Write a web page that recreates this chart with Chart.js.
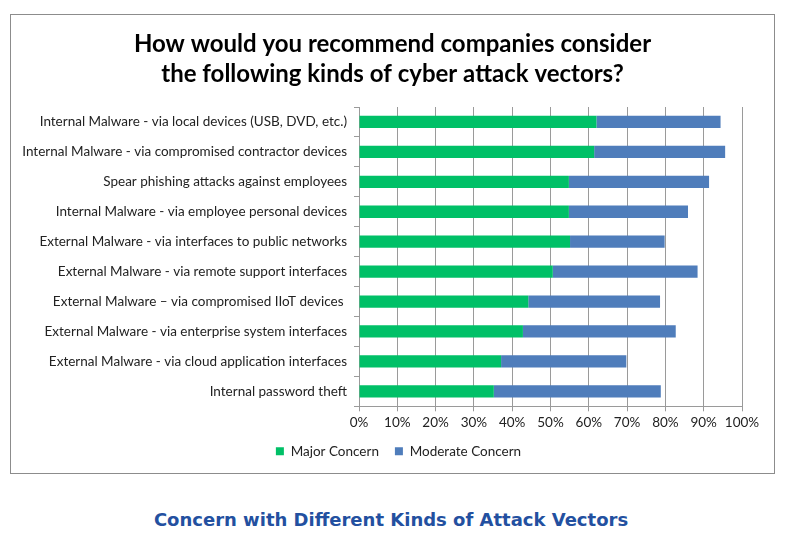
<!DOCTYPE html>
<html>
<head>
<meta charset="utf-8">
<script src="https://cdn.jsdelivr.net/npm/chart.js@4"></script>
<style>
  body { margin: 0; background: #fff; width: 790px; height: 545px; position: relative; }
  #box { position: absolute; left: 10px; top: 14px; width: 763px; height: 458px; border: 1px solid #8c8c8c; }
  #caption { position: absolute; left: 0; width: 782px; top: 509px; text-align: center;
    font: bold 18px "DejaVu Sans", Verdana, sans-serif; color: #2350a0; }
</style>
</head>
<body>
<div id="box"><canvas id="myChart" width="763" height="458"></canvas></div>
<div id="caption">Concern with Different Kinds of Attack Vectors</div>
<script>
const categories = [
    'Internal Malware - via local devices (USB, DVD, etc.)',
    'Internal Malware - via compromised contractor devices',
    'Spear phishing attacks against employees',
    'Internal Malware - via employee personal devices',
    'External Malware - via interfaces to public networks',
    'External Malware - via remote support interfaces',
    'External Malware \u2013 via compromised IIoT devices ',
    'External Malware - via enterprise system interfaces',
    'External Malware - via cloud application interfaces',
    'Internal password theft'
];
const majorConcern = [62.0, 61.4, 54.8, 54.8, 55.1, 50.6, 44.2, 42.8, 37.1, 35.2];
const moderateConcern = [32.4, 34.2, 36.6, 31.1, 24.7, 37.8, 34.4, 39.9, 32.7, 43.6];
const titleLines = ['How would you recommend companies consider', 'the following kinds of cyber attack vectors?'];

// title and legend are centred on the whole box, not on the padded area
const centreBlocks = {
    id: 'centreBlocks',
    afterLayout(chart) {
        chart.titleBlock.left = 0;
        chart.titleBlock.right = chart.width;
        chart.legend.left = 6;
        chart.legend.right = chart.width + 6;
        chart.legend.top -= 5;
        chart.legend.bottom -= 5;
    }
};

const ctx = document.getElementById('myChart').getContext('2d');
Chart.defaults.font.family = 'Lato, "Open Sans", sans-serif';
Chart.defaults.font.size = 13.5;
Chart.defaults.color = '#222';

new Chart(ctx, {
    type: 'bar',
    data: {
        labels: categories,
        datasets: [
            { label: 'Major Concern', data: majorConcern, backgroundColor: '#00c067', barPercentage: 0.41, categoryPercentage: 1 },
            { label: 'Moderate Concern', data: moderateConcern, backgroundColor: '#4f7dbb', barPercentage: 0.41, categoryPercentage: 1 }
        ]
    },
    options: {
        responsive: false,
        animation: false,
        indexAxis: 'y',
        layout: { padding: { left: 0, right: 32, top: 0, bottom: 0 } },
        scales: {
            x: {
                stacked: true,
                min: 0,
                max: 100,
                ticks: { stepSize: 10, callback: v => v + '%', color: '#222', padding: 3, maxRotation: 0, autoSkip: false },
                grid: { color: '#9a9a9a', tickLength: 5, lineWidth: 1 },
                border: { color: '#9a9a9a' }
            },
            y: {
                stacked: true,
                ticks: { color: '#222', padding: 7 },
                grid: { drawOnChartArea: false, color: '#9a9a9a', tickLength: 5 },
                border: { color: '#9a9a9a' },
                afterFit: scale => { scale.width = 348; }
            }
        },
        plugins: {
            title: {
                display: true,
                text: titleLines,
                color: '#000',
                font: { size: 24, weight: 'bold', family: 'Lato, sans-serif', lineHeight: 1.25 },
                padding: { top: 14, bottom: 18 }
            },
            legend: {
                position: 'bottom',
                labels: { boxWidth: 8, boxHeight: 8, color: '#222', padding: 16 }
            },
            tooltip: { enabled: false }
        }
    },
    plugins: [centreBlocks]
});
</script>
</body>
</html>
